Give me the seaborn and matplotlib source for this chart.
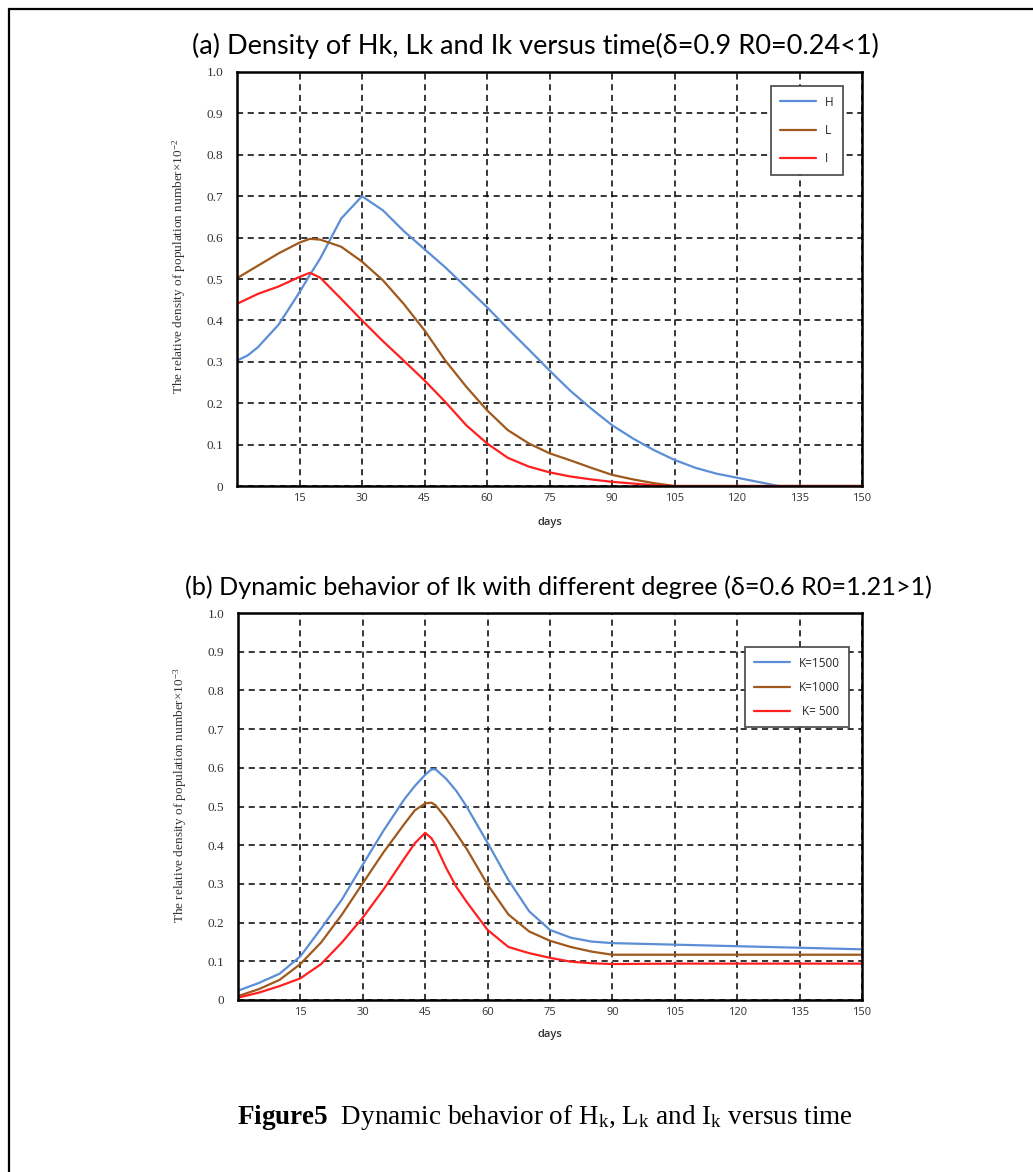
import numpy as np
import pandas as pd
import matplotlib
matplotlib.use("Agg")
import matplotlib.pyplot as plt
import seaborn as sns
from matplotlib.lines import Line2D

# valeurs
days_a = [0, 2.5, 5, 10, 15, 17.5, 20, 25, 30, 35, 40, 45, 50, 55, 60, 65, 70, 75, 80,
          85, 90, 95, 100, 105, 110, 115, 120, 125, 130, 135, 140, 145, 150]
h_vals = [0.303, 0.315, 0.335, 0.39, 0.468, 0.51, 0.55, 0.646, 0.70, 0.666, 0.616, 0.572,
          0.528, 0.48, 0.432, 0.38, 0.33, 0.279, 0.23, 0.187, 0.147, 0.115, 0.087, 0.063,
          0.044, 0.030, 0.020, 0.010, 0.0, 0.0, 0.0, 0.0, 0.0]
l_vals = [0.502, 0.517, 0.532, 0.562, 0.588, 0.597, 0.595, 0.578, 0.542, 0.497, 0.44, 0.376,
          0.303, 0.24, 0.183, 0.135, 0.103, 0.079, 0.062, 0.044, 0.027, 0.016, 0.007, 0.0,
          0.0, 0.0, 0.0, 0.0, 0.0, 0.0, 0.0, 0.0, 0.0]
i_vals = [0.44, 0.452, 0.464, 0.482, 0.505, 0.515, 0.503, 0.452, 0.40, 0.35, 0.303, 0.255,
          0.203, 0.147, 0.103, 0.068, 0.047, 0.033, 0.023, 0.016, 0.010, 0.006, 0.002, 0.0,
          0.0, 0.0, 0.0, 0.0, 0.0, 0.0, 0.0, 0.0, 0.0]
labels_a = ["H", "L", "I"]

days_b = [0, 5, 10, 15, 20, 25, 30, 35, 40, 42.5, 45, 46.5, 47.5, 50, 52.5, 55, 60, 65, 70,
          75, 80, 85, 90, 105, 120, 135, 150]
k1500 = [0.024, 0.044, 0.068, 0.113, 0.185, 0.26, 0.35, 0.438, 0.519, 0.553, 0.582, 0.596,
         0.596, 0.572, 0.54, 0.499, 0.406, 0.31, 0.229, 0.181, 0.161, 0.151, 0.147, 0.143,
         0.139, 0.135, 0.131]
k1000 = [0.010, 0.028, 0.052, 0.093, 0.149, 0.221, 0.302, 0.382, 0.455, 0.49, 0.508, 0.510,
         0.503, 0.47, 0.43, 0.39, 0.298, 0.221, 0.177, 0.153, 0.137, 0.125, 0.117, 0.117,
         0.117, 0.117, 0.117]
k500 = [0.006, 0.019, 0.036, 0.056, 0.093, 0.149, 0.213, 0.286, 0.366, 0.405, 0.432, 0.418,
        0.40, 0.342, 0.292, 0.253, 0.181, 0.137, 0.121, 0.109, 0.099, 0.095, 0.093, 0.094,
        0.094, 0.094, 0.094]
labels_b = ["K=1500", "K=1000", " K= 500"]

colors = ["#5B8ED6", "#A0591C", "#FF2020"]
xticks = [15, 30, 45, 60, 75, 90, 105, 120, 135, 150]
yticks = [0, 0.1, 0.2, 0.3, 0.4, 0.5, 0.6, 0.7, 0.8, 0.9, 1.0]
ytick_labels = ["0", "0.1", "0.2", "0.3", "0.4", "0.5", "0.6", "0.7", "0.8", "0.9", "1.0"]

sns.set_style("white")
plt.rcParams["font.family"] = ["Liberation Sans", "DejaVu Sans"]
plt.rcParams["mathtext.fontset"] = "custom"
plt.rcParams["mathtext.rm"] = "Liberation Serif"
plt.rcParams["mathtext.it"] = "Liberation Serif:italic"
plt.rcParams["mathtext.bf"] = "Liberation Serif:bold"

fig = plt.figure(figsize=(10.33, 11.72), dpi=100)
ax1 = fig.add_axes([237 / 1033, 1 - 486 / 1172, 625 / 1033, 414 / 1172])
ax2 = fig.add_axes([238 / 1033, 1 - 1000 / 1172, 624 / 1033, 387 / 1172])


def draw_panel(ax, days, series, labels, ylabel, legend_box, spacing):
    df = pd.DataFrame({"days": np.tile(days, 3),
                       "value": np.concatenate(series),
                       "serie": np.repeat(labels, len(days))})
    sns.lineplot(data=df, x="days", y="value", hue="serie", palette=colors,
                 linewidth=1.6, ax=ax, legend=False)
    ax.set_xlim(0, 150)
    ax.set_ylim(0, 1.0)
    ax.set_xticks(xticks)
    ax.set_yticks(yticks)
    ax.set_yticklabels(ytick_labels, family=["Liberation Serif", "DejaVu Serif"], fontsize=9.5,
                       color="#333333")
    ax.set_xticklabels([str(t) for t in xticks], family=["Open Sans", "DejaVu Sans"],
                       fontsize=8, color="#333333")
    ax.tick_params(axis="y", length=0, pad=10)
    ax.tick_params(axis="x", length=0, pad=5)
    ax.grid(True, color="black", linestyle=(0, (4, 3)), linewidth=1.1)
    for s in ax.spines.values():
        s.set_color("black")
        s.set_linewidth(1.8)
    ax.set_xlabel("days", family=["Open Sans", "DejaVu Sans"], fontsize=8,
                  fontweight="semibold", color="#333333")
    ax.xaxis.set_label_coords(0.5, -0.075)
    ax.set_ylabel(ylabel, family=["Liberation Serif", "DejaVu Serif"], fontsize=9.5,
                  color="#333333")
    ax.yaxis.set_label_coords(-0.078, 0.53)
    handles = [Line2D([0], [0], color=c, lw=1.6) for c in colors]
    leg = ax.legend(handles, labels, loc="upper left", bbox_to_anchor=legend_box,
                    frameon=True, fancybox=False, framealpha=1, edgecolor="#444444",
                    prop={"family": ["Open Sans", "DejaVu Sans"], "size": 8.5},
                    handlelength=3.0, handletextpad=0.8, borderpad=0.8,
                    labelspacing=spacing, borderaxespad=0)
    leg.get_frame().set_linewidth(1.2)


draw_panel(ax1, days_a, [h_vals, l_vals, i_vals], labels_a,
           r"The relative density of population number×10$^{-2}$", (0.854, 0.966), 1.3)
draw_panel(ax2, days_b, [k1500, k1000, k500], labels_b,
           r"The relative density of population number×10$^{-3}$", (0.812, 0.912), 0.95)

fig.text(535 / 1033, 1 - 46 / 1172,
         "(a) Density of Hk, Lk and Ik versus time(δ=0.9 R0=0.24<1)",
         ha="center", va="center", fontsize=19.5, color="black",
         family=["Lato", "DejaVu Sans"])
fig.text(558 / 1033, 1 - 587 / 1172,
         "(b) Dynamic behavior of Ik with different degree (δ=0.6 R0=1.21>1)",
         ha="center", va="center", fontsize=18.2, color="black",
         family=["Lato", "DejaVu Sans"])
fig.text(545 / 1033, 1 - 1118 / 1172,
         r"$\mathbf{Figure5}$  Dynamic behavior of H$_\mathrm{k}$, L$_\mathrm{k}$ and I$_\mathrm{k}$ versus time",
         ha="center", va="center", fontsize=19.5, color="black",
         family=["Liberation Serif", "DejaVu Serif"])

# cadre de la page (haut et gauche)
fig.add_artist(Line2D([9 / 1033, 9 / 1033], [0, 1 - 9 / 1172], color="black", lw=1.6,
                      transform=fig.transFigure))
fig.add_artist(Line2D([9 / 1033, 1], [1 - 9 / 1172, 1 - 9 / 1172], color="black", lw=1.6,
                      transform=fig.transFigure))

fig.savefig("out.png", dpi=100)
